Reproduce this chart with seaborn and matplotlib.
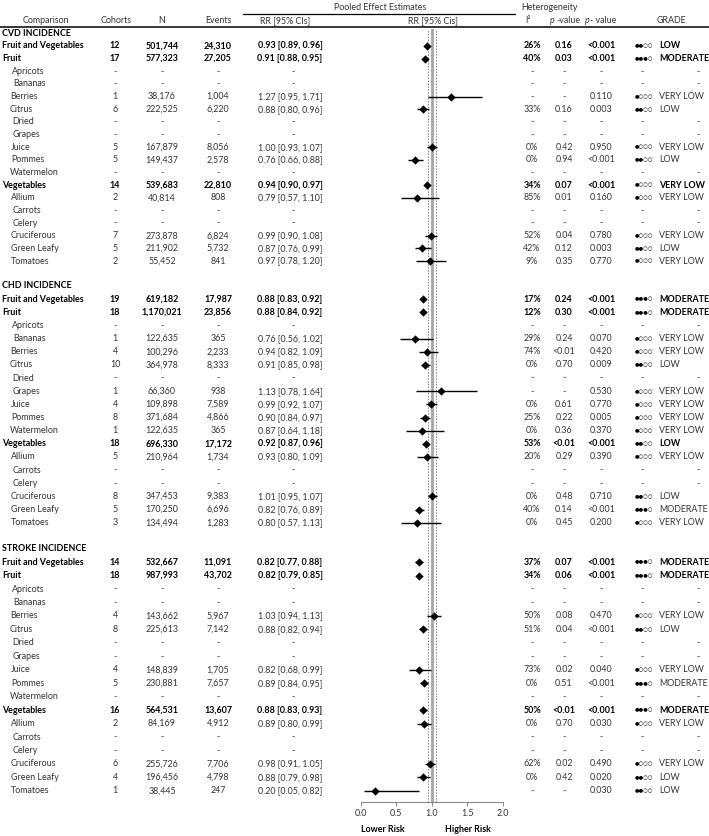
import matplotlib
matplotlib.use("Agg")
import matplotlib.pyplot as plt
import pandas as pd
import seaborn as sns

# ---- data -------------------------------------------------------------
sections = ["CVD INCIDENCE", "CHD INCIDENCE", "STROKE INCIDENCE"]
items = ["Fruit and Vegetables", "Fruit", "Apricots", "Bananas", "Berries", "Citrus",
         "Dried", "Grapes", "Juice", "Pommes", "Watermelon", "Vegetables", "Allium",
         "Carrots", "Celery", "Cruciferous", "Green Leafy", "Tomatoes"]
bold_items = ["Fruit and Vegetables", "Fruit", "Vegetables"]

_ = None
cvd_cohorts = [12, 17, _, _, 1, 6, _, _, 5, 5, _, 14, 2, _, _, 7, 5, 2]
cvd_n = [501744, 577323, _, _, 38176, 222525, _, _, 167879, 149437, _, 539683, 40814, _, _, 273878, 211902, 55452]
cvd_events = [24310, 27205, _, _, 1004, 6220, _, _, 8056, 2578, _, 22810, 808, _, _, 6824, 5732, 841]
cvd_rr = [0.93, 0.91, _, _, 1.27, 0.88, _, _, 1.00, 0.76, _, 0.94, 0.79, _, _, 0.99, 0.87, 0.97]
cvd_lo = [0.89, 0.88, _, _, 0.95, 0.80, _, _, 0.93, 0.66, _, 0.90, 0.57, _, _, 0.90, 0.76, 0.78]
cvd_hi = [0.96, 0.95, _, _, 1.71, 0.96, _, _, 1.07, 0.88, _, 0.97, 1.10, _, _, 1.08, 0.99, 1.20]
cvd_i2 = [26, 40, _, _, _, 33, _, _, 0, 0, _, 34, 85, _, _, 52, 42, 9]
cvd_phet = ["0.16", "0.03", _, _, _, "0.16", _, _, "0.42", "0.94", _, "0.07", "0.01", _, _, "0.04", "0.12", "0.35"]
cvd_p = ["<0.001", "<0.001", _, _, "0.110", "0.003", _, _, "0.950", "<0.001", _, "<0.001", "0.160", _, _, "0.780", "0.003", "0.770"]
cvd_grade = ["LOW", "MODERATE", _, _, "VERY LOW", "LOW", _, _, "VERY LOW", "LOW", _, "VERY LOW", "VERY LOW", _, _, "VERY LOW", "LOW", "VERY LOW"]

chd_cohorts = [19, 18, _, 1, 4, 10, _, 1, 4, 8, 1, 18, 5, _, _, 8, 5, 3]
chd_n = [619182, 1170021, _, 122635, 100296, 364978, _, 66360, 109898, 371684, 122635, 696330, 210964, _, _, 347453, 170250, 134494]
chd_events = [17987, 23856, _, 365, 2233, 8333, _, 938, 7589, 4866, 365, 17172, 1734, _, _, 9383, 6696, 1283]
chd_rr = [0.88, 0.88, _, 0.76, 0.94, 0.91, _, 1.13, 0.99, 0.90, 0.87, 0.92, 0.93, _, _, 1.01, 0.82, 0.80]
chd_lo = [0.83, 0.84, _, 0.56, 0.82, 0.85, _, 0.78, 0.92, 0.84, 0.64, 0.87, 0.80, _, _, 0.95, 0.76, 0.57]
chd_hi = [0.92, 0.92, _, 1.02, 1.09, 0.98, _, 1.64, 1.07, 0.97, 1.18, 0.96, 1.09, _, _, 1.07, 0.89, 1.13]
chd_i2 = [17, 12, _, 29, 74, 0, _, _, 0, 25, 0, 53, 20, _, _, 0, 40, 0]
chd_phet = ["0.24", "0.30", _, "0.24", "<0.01", "0.70", _, _, "0.61", "0.22", "0.36", "<0.01", "0.29", _, _, "0.48", "0.14", "0.45"]
chd_p = ["<0.001", "<0.001", _, "0.070", "0.420", "0.009", _, "0.530", "0.770", "0.005", "0.370", "<0.001", "0.390", _, _, "0.710", "<0.001", "0.200"]
chd_grade = ["MODERATE", "MODERATE", _, "VERY LOW", "VERY LOW", "LOW", _, "VERY LOW", "VERY LOW", "VERY LOW", "VERY LOW", "LOW", "VERY LOW", _, _, "LOW", "MODERATE", "VERY LOW"]

stroke_cohorts = [14, 18, _, _, 4, 8, _, _, 4, 5, _, 16, 2, _, _, 6, 4, 1]
stroke_n = [532667, 987993, _, _, 143662, 225613, _, _, 148839, 230881, _, 564531, 84169, _, _, 255726, 196456, 38445]
stroke_events = [11091, 43702, _, _, 5967, 7142, _, _, 1705, 7657, _, 13607, 4912, _, _, 7706, 4798, 247]
stroke_rr = [0.82, 0.82, _, _, 1.03, 0.88, _, _, 0.82, 0.89, _, 0.88, 0.89, _, _, 0.98, 0.88, 0.20]
stroke_lo = [0.77, 0.79, _, _, 0.94, 0.82, _, _, 0.68, 0.84, _, 0.83, 0.80, _, _, 0.91, 0.79, 0.05]
stroke_hi = [0.88, 0.85, _, _, 1.13, 0.94, _, _, 0.99, 0.95, _, 0.93, 0.99, _, _, 1.05, 0.98, 0.82]
stroke_i2 = [37, 34, _, _, 50, 51, _, _, 73, 0, _, 50, 0, _, _, 62, 0, _]
stroke_phet = ["0.07", "0.06", _, _, "0.08", "0.04", _, _, "0.02", "0.51", _, "<0.01", "0.70", _, _, "0.02", "0.42", _]
stroke_p = ["<0.001", "<0.001", _, _, "0.470", "<0.001", _, _, "0.040", "<0.001", _, "<0.001", "0.030", _, _, "0.490", "0.020", "0.030"]
stroke_grade = ["MODERATE", "MODERATE", _, _, "VERY LOW", "LOW", _, _, "VERY LOW", "MODERATE", _, "MODERATE", "VERY LOW", _, _, "VERY LOW", "LOW", "LOW"]

grade_dots = {"VERY LOW": 1, "LOW": 2, "MODERATE": 3, "HIGH": 4}

outcomes = [
    (cvd_cohorts, cvd_n, cvd_events, cvd_rr, cvd_lo, cvd_hi, cvd_i2, cvd_phet, cvd_p, cvd_grade),
    (chd_cohorts, chd_n, chd_events, chd_rr, chd_lo, chd_hi, chd_i2, chd_phet, chd_p, chd_grade),
    (stroke_cohorts, stroke_n, stroke_events, stroke_rr, stroke_lo, stroke_hi, stroke_i2, stroke_phet, stroke_p, stroke_grade),
]

# ---- layout (pixels) -----------------------------------------------------
W, H = 709, 836
sec_top = [33.3, 286.0, 548.7]
sec_step = [12.65, 13.15, 13.45]
indent = {"Apricots": 12, "Bananas": 13, "Berries": 10, "Citrus": 10, "Dried": 12,
          "Grapes": 13, "Juice": 11, "Pommes": 11, "Watermelon": 10, "Allium": 11,
          "Carrots": 13, "Celery": 13, "Cruciferous": 11, "Green Leafy": 11, "Tomatoes": 11}

x_coh, x_n, x_ev, x_rr = 115, 162, 218, 290
x_i2, x_ph, x_p, x_dots, x_grade = 532, 564, 601, 635, 659

sns.set_theme(style="white")
fam = ["Lato", "DejaVu Sans"]
plt.rcParams["font.family"] = fam
FS = 6.4
GREY = "#333333"

fig = plt.figure(figsize=(W / 100, H / 100), dpi=100)
fig.patch.set_facecolor("white")
ax = fig.add_axes([0, 0, 1, 1])
ax.set_xlim(0, W)
ax.set_ylim(H, 0)
ax.axis("off")


def txt(x, y, s, ha="center", bold=False, color=None, size=FS, **kw):
    ax.text(x, y, s, ha=ha, va="center", fontsize=size,
            fontweight="bold" if bold else "normal",
            color=color or ("black" if bold else GREY), **kw)


# header
txt(380, 7, "Pooled Effect Estimates", color=GREY)
txt(550, 7, "Heterogeneity", color=GREY)
ax.plot([243, 515], [13.5, 13.5], color="black", lw=0.9)
ax.plot([0, W], [27, 27], color="black", lw=1.1)
hy = 20.5
txt(46, hy, "Comparison")
txt(116, hy, "Cohorts")
txt(162, hy, "N")
txt(218, hy, "Events")
txt(285, hy, "RR [95% CIs]")
txt(433, hy, "RR [95% Cis]")
txt(528, hy, "I²")
txt(550, hy, "p", ha="left", style="italic")
txt(556, hy, "-value", ha="left")
txt(585, hy, "p", ha="left", style="italic")
txt(590, hy, "- value", ha="left")
txt(671, hy, "GRADE")

rows = []
for s, title in enumerate(sections):
    cohorts, n, events, rr, lo, hi, i2, phet, p, grade = outcomes[s]
    txt(2, sec_top[s], title, ha="left", bold=True)
    for j, name in enumerate(items):
        y = sec_top[s] + sec_step[s] * (j + 1)
        b = name in bold_items
        txt(2 if b else indent[name], y, name, ha="left", bold=b)
        if cohorts[j] is None:
            for xx in (x_coh, x_n, x_ev, x_rr + 3):
                txt(xx, y, "-")
        else:
            txt(x_coh, y, str(cohorts[j]), bold=b)
            txt(x_n, y, f"{n[j]:,}", bold=b)
            txt(x_ev, y, f"{events[j]:,}", bold=b)
            txt(x_rr, y, f"{rr[j]:.2f} [{lo[j]:.2f}, {hi[j]:.2f}]", bold=b)
            rows.append({"rr": rr[j], "lo": lo[j], "hi": hi[j], "y": y})
        txt(x_i2, y, "-" if i2[j] is None else f"{i2[j]}%", bold=b)
        txt(x_ph, y, "-" if phet[j] is None else phet[j], bold=b)
        txt(x_p, y, "-" if p[j] is None else p[j], bold=b)
        if grade[j] is None:
            txt(642, y, "-")
            txt(698, y, "-")
        else:
            k = grade_dots[grade[j]]
            ax.text(x_dots, y, "●" * k + "○" * (4 - k), ha="left", va="center",
                    fontsize=3.8, color="black", family="DejaVu Sans")
            txt(x_grade, y, grade[j], ha="left", bold=b)

forest = pd.DataFrame(rows)

# ---- forest plot -------------------------------------------------------
x0, x2 = 360.7, 502.7
ytop, ybot = 29, 801.7
axf = fig.add_axes([x0 / W, (H - ybot) / H, (x2 - x0) / W, (ybot - ytop) / H])
axf.patch.set_alpha(0)
axf.set_xlim(0, 2)
axf.set_ylim(ybot, ytop)
axf.axvline(1.0, color="#a6a6a6", lw=2.0, zorder=1)
axf.axvline(0.95, color="#808080", lw=0.7, ls=(0, (1.5, 1.5)), zorder=1)
axf.axvline(1.06, color="#808080", lw=0.7, ls=(0, (1.5, 1.5)), zorder=1)
axf.hlines(forest["y"], forest["lo"], forest["hi"], color="black", lw=1.0, zorder=2)
sns.scatterplot(data=forest, x="rr", y="y", marker="D", color="black", s=18,
                edgecolor="black", linewidth=0, ax=axf, zorder=3, legend=False)
axf.set_ylim(ybot, ytop)
axf.set_xlabel("")
axf.set_ylabel("")
axf.set_yticks([])
axf.set_xticks([0, 0.5, 1.0, 1.5, 2.0])
axf.set_xticklabels(["0.0", "0.5", "1.0", "1.5", "2.0"])
for sp in ("top", "left", "right"):
    axf.spines[sp].set_visible(False)
axf.spines["bottom"].set_color("#888888")
axf.spines["bottom"].set_linewidth(0.8)
axf.tick_params(axis="x", bottom=True, length=3, width=0.7, color="#888888",
                labelsize=FS, labelcolor=GREY, pad=2)

txt(383, 829, "Lower Risk", bold=True)
txt(468, 829, "Higher Risk", bold=True)

fig.savefig("out.png", dpi=100, facecolor="white")
